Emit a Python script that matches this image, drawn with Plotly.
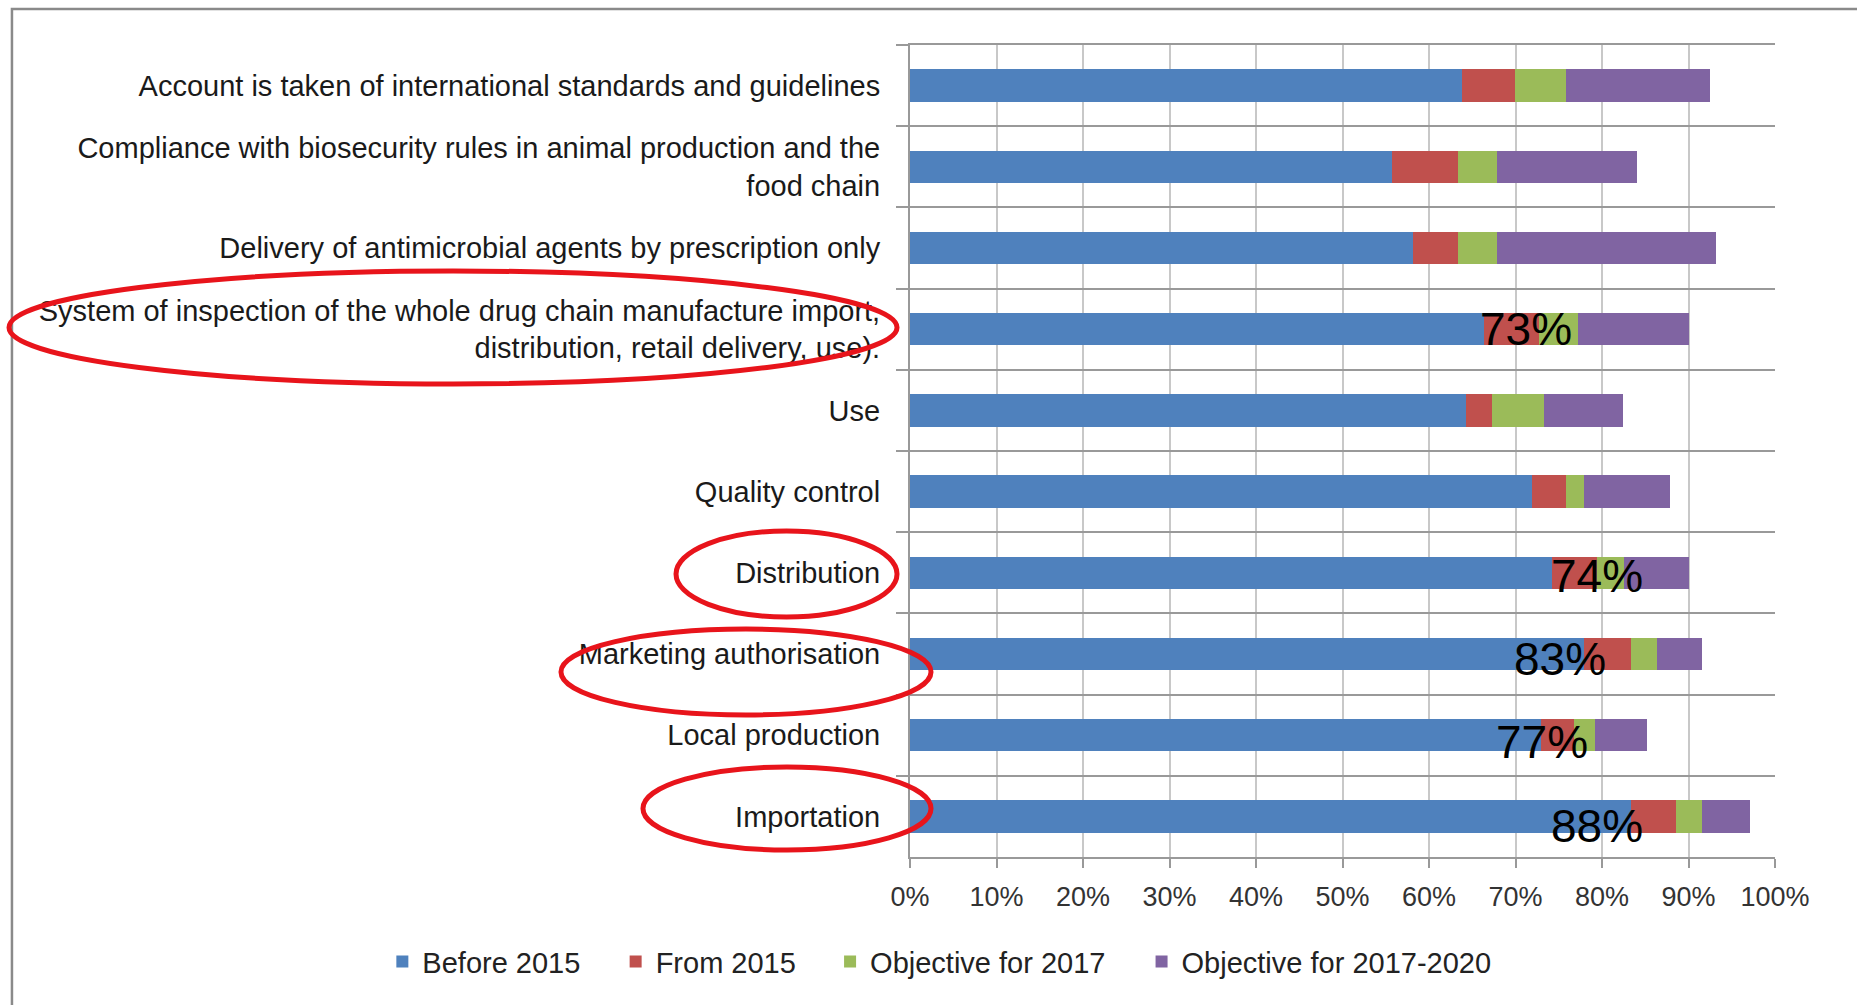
import plotly.graph_objects as go

categories = [
    "Account is taken of international standards and guidelines",
    "Compliance with biosecurity rules in animal production and the<br>food chain",
    "Delivery of antimicrobial agents by prescription only",
    "System of inspection of the whole drug chain manufacture import,<br>distribution, retail delivery, use).",
    "Use",
    "Quality control",
    "Distribution",
    "Marketing authorisation",
    "Local production",
    "Importation",
]
before_2015 = [63.8, 55.7, 58.1, 66.4, 64.3, 71.9, 74.2, 77.9, 73.0, 83.4]
from_2015 = [6.1, 7.6, 5.2, 6.3, 3.0, 3.9, 5.2, 5.5, 3.8, 5.1]
objective_2017 = [5.9, 4.6, 4.6, 4.5, 6.0, 2.1, 3.1, 3.0, 2.4, 3.1]
objective_2017_2020 = [16.7, 16.1, 25.3, 12.8, 9.1, 10.0, 7.5, 5.2, 6.0, 5.5]

series_names = ["Before 2015", "From 2015", "Objective for 2017", "Objective for 2017-2020"]
series_values = [before_2015, from_2015, objective_2017, objective_2017_2020]
series_colors = ["#4F81BD", "#C0504D", "#9BBB59", "#8064A2"]

x_tick_values = [0, 10, 20, 30, 40, 50, 60, 70, 80, 90, 100]
x_tick_labels = ["0%", "10%", "20%", "30%", "40%", "50%", "60%", "70%", "80%", "90%", "100%"]

note_labels = ["73%", "74%", "83%", "77%", "88%"]
note_rows = [3, 6, 7, 8, 9]
note_x = [71.2, 79.4, 75.2, 73.1, 79.4]
note_shift = [0, -3, -5, -7, -10]

FONT = "Liberation Sans, Arial, sans-serif"

legend_ids = ["legend", "legend2", "legend3", "legend4"]
legend_x = [-0.61, -0.3403, -0.0924, 0.2677]

fig = go.Figure()
for name, vals, col, lid in zip(series_names, series_values, series_colors, legend_ids):
    fig.add_trace(go.Bar(
        y=categories, x=vals, name=name, orientation="h", legend=lid,
        marker=dict(color=col, line=dict(width=0)),
    ))

for lab, r, xv, sh in zip(note_labels, note_rows, note_x, note_shift):
    fig.add_annotation(x=xv, y=categories[r], text=lab, showarrow=False,
                       xref="x", yref="y", yshift=sh,
                       font=dict(family=FONT, size=46, color="black"))

# red ellipses (hand-drawn highlights), paper coordinates
ellipses = [
    (-1.0416, 0.5825, -0.0150, 0.7217),
    (-0.2705, 0.2956, -0.0150, 0.4015),
    (-0.4035, 0.1749, 0.0243, 0.2808),
    (-0.3087, 0.0086, 0.0243, 0.1108),
]
for x0, y0, x1, y1 in ellipses:
    fig.add_shape(type="circle", xref="paper", yref="paper",
                  x0=x0, y0=y0, x1=x1, y1=y1,
                  line=dict(color="#E8141B", width=5), layer="above")

# outer frame
fig.add_shape(type="rect", xref="paper", yref="paper",
              x0=-1.0382, y0=-2, x1=2, y1=1.0443,
              line=dict(color="#8A8A8A", width=2.5), layer="below")

legend_style = dict(orientation="h", xref="paper", yref="paper",
                    y=-0.129, xanchor="left", yanchor="middle",
                    font=dict(family=FONT, size=29, color="#222222"))
fig.update_layout(
    width=1857, height=1005,
    margin=dict(l=910, r=82, t=45, b=148),
    barmode="stack", bargap=0.6,
    plot_bgcolor="white", paper_bgcolor="white",
    font=dict(family=FONT, size=29, color="#222222"),
    showlegend=True,
    **{lid: dict(legend_style, x=lx) for lid, lx in zip(legend_ids, legend_x)},
)
fig.update_xaxes(range=[0, 100], tickmode="array", tickvals=x_tick_values,
                 ticktext=x_tick_labels,
                 showgrid=True, gridcolor="#C8C8C8", gridwidth=1.5,
                 zeroline=False, showline=True, linecolor="#999999", linewidth=2,
                 mirror=True, ticks="outside", ticklen=9, tickcolor="#999999",
                 tickwidth=1.5, ticklabelstandoff=6,
                 tickfont=dict(family=FONT, size=27, color="#333333"))
fig.update_yaxes(type="category", autorange="reversed", tickson="boundaries",
                 showgrid=True, gridcolor="#999999", gridwidth=2,
                 showline=True, linecolor="#999999", linewidth=2,
                 ticks="outside", ticklen=12, tickcolor="#999999", tickwidth=2,
                 ticklabelstandoff=22,
                 tickfont=dict(family=FONT, size=29, color="#1A1A1A"))

fig.write_html("out.html", config={"displayModeBar": False},
               post_script="document.body.style.margin='0';document.body.style.overflow='hidden';")
